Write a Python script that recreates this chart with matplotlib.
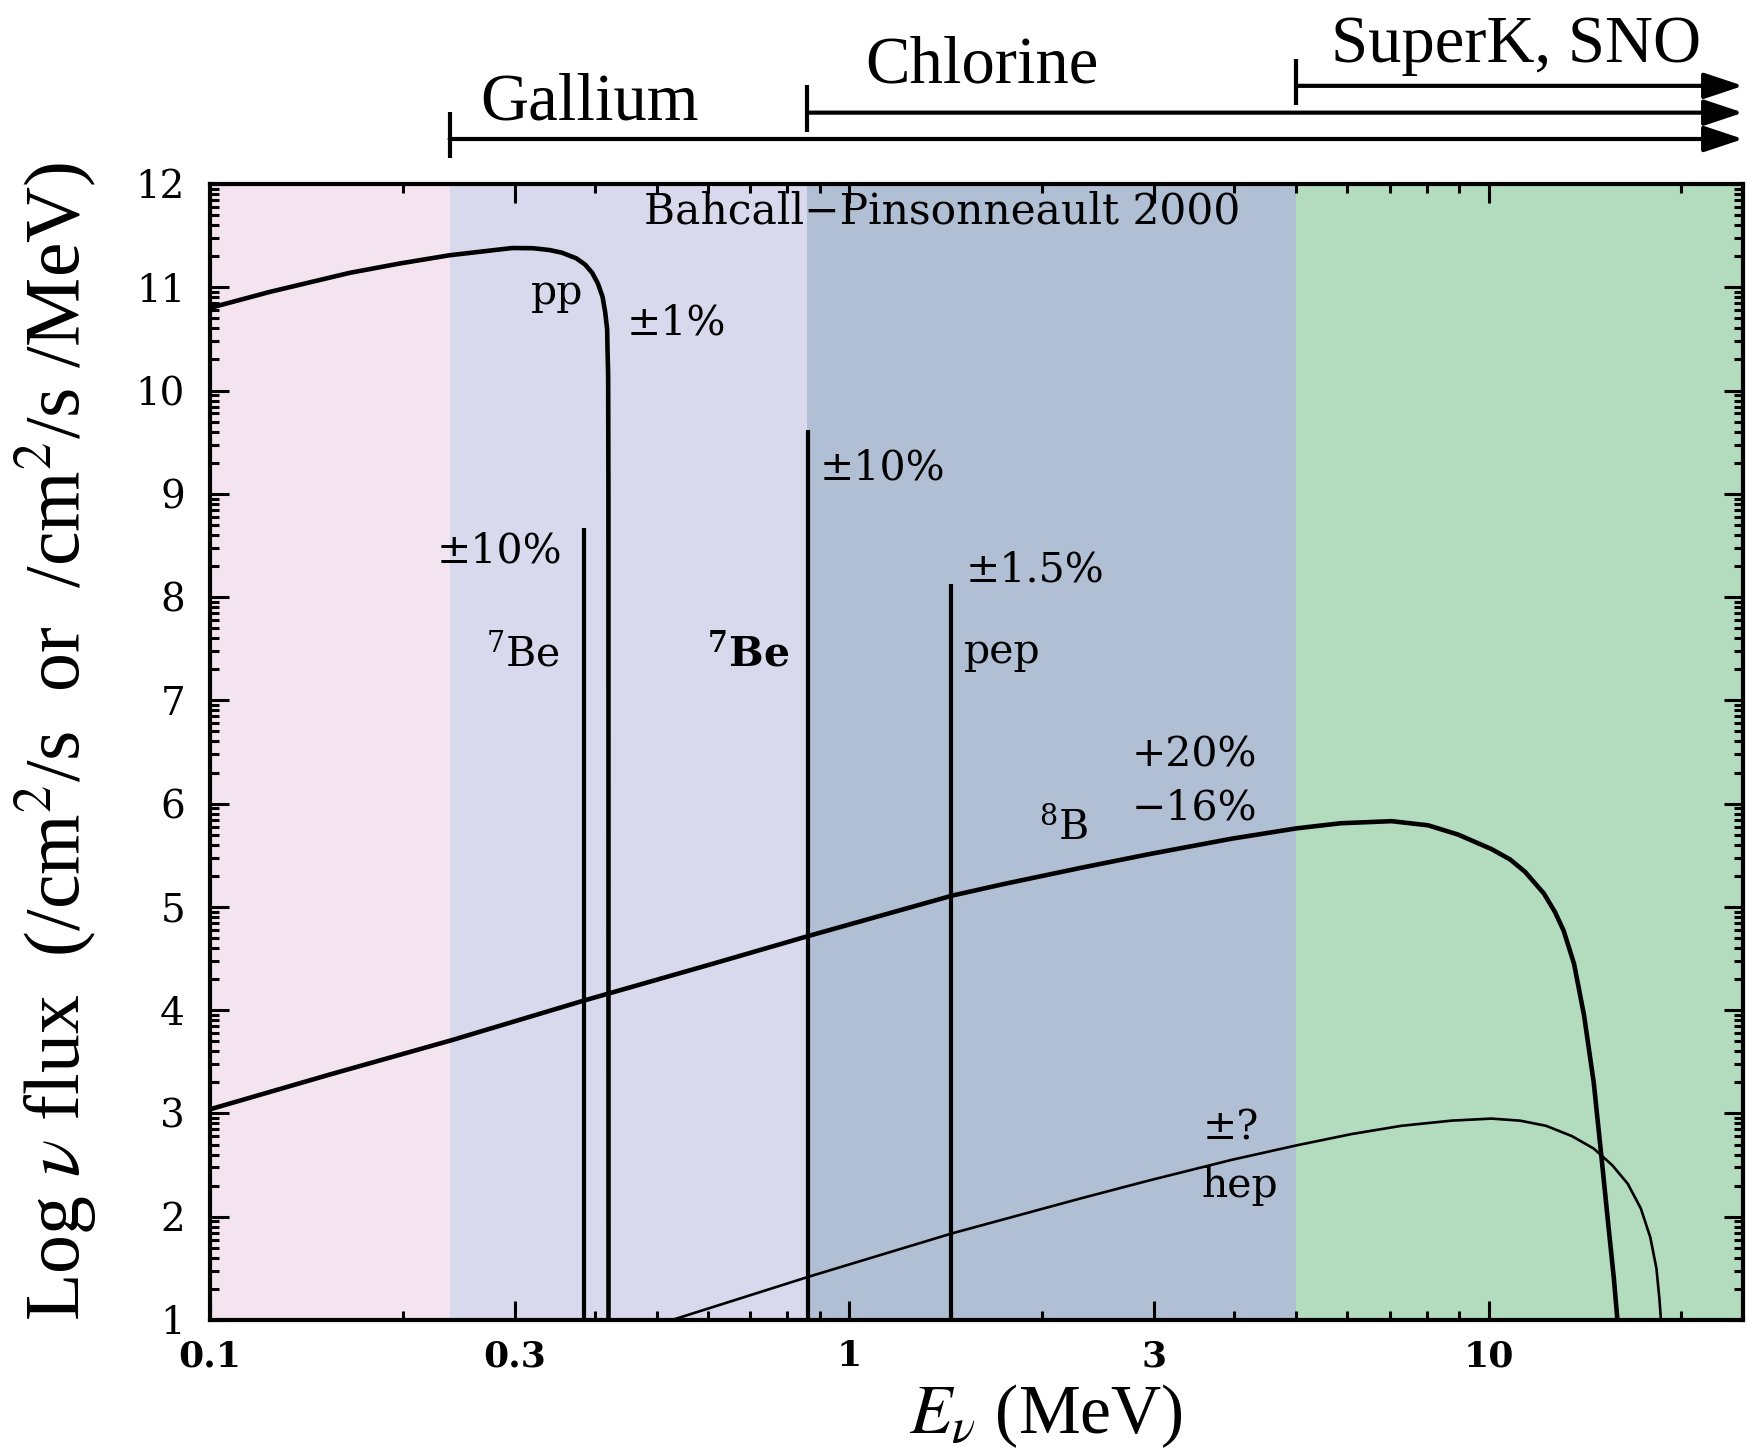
import numpy as np
import matplotlib.pyplot as plt
from matplotlib import transforms
from matplotlib.ticker import FixedLocator, FixedFormatter, NullFormatter

# shaded energy windows (MeV) and detector thresholds
band_edges = [0.1, 0.237, 0.86, 5.0, 25.0]
band_colors = ['#F4E4EF', '#D8D9EC', '#B0BFD4', '#B3DBBD']
detectors = ['Gallium', 'Chlorine', 'SuperK, SNO']
det_thresholds = [0.237, 0.86, 5.0]

# continuum spectra: E (MeV) vs log10 flux (/cm^2/s/MeV)
pp_E = [0.1, 0.124, 0.1655, 0.198, 0.237, 0.297, 0.32, 0.34, 0.355, 0.374,
        0.386, 0.396, 0.404, 0.411, 0.415, 0.418, 0.4185, 0.4193, 0.4195,
        0.4199, 0.42]
pp_flux = [10.80, 10.955, 11.14, 11.23, 11.31, 11.38, 11.378, 11.36, 11.335,
           11.28, 11.22, 11.14, 11.04, 10.91, 10.76, 10.59, 10.40, 10.20,
           10.10, 9.0, 1.0]

b8_E = [0.1, 0.154, 0.239, 0.383, 0.612, 0.865, 1.45, 1.74, 2.31, 2.94, 3.96,
        5.0, 5.87, 7.05, 8.04, 8.96, 10.1, 10.8, 11.4, 12.2, 12.7, 13.1,
        13.6, 14.1, 14.6, 15.0, 15.4, 15.7, 15.9]
b8_flux = [3.04, 3.377, 3.71, 4.09, 4.45, 4.72, 5.11, 5.22, 5.38, 5.51, 5.66,
           5.76, 5.81, 5.83, 5.79, 5.70, 5.56, 5.46, 5.34, 5.13, 4.95, 4.77,
           4.45, 3.95, 3.30, 2.60, 1.90, 1.40, 1.0]

hep_E = [0.528, 0.865, 1.45, 2.31, 2.94, 3.96, 5.0, 6.1, 7.3, 8.74, 10.1,
         11.2, 12.3, 13.5, 14.6, 15.6, 16.5, 17.3, 17.9, 18.3, 18.5, 18.6]
hep_flux = [1.0, 1.42, 1.84, 2.18, 2.35, 2.55, 2.69, 2.80, 2.88, 2.93, 2.95,
            2.93, 2.88, 2.78, 2.66, 2.50, 2.32, 2.08, 1.80, 1.50, 1.20, 1.0]

# monoenergetic lines: 7Be (0.384, 0.862) and pep
line_E = [0.384, 0.862, 1.442]
line_flux = [8.67, 9.62, 8.13]

xtick_vals = [0.1, 0.3, 1, 3, 10]
xtick_labels = ['0.1', '0.3', '1', '3', '10']
ytick_vals = list(range(1, 13))

fig = plt.figure(figsize=(17.49, 14.51), dpi=100)
ax = fig.add_axes([0.1201, 0.0903, 0.8765, 0.7829])
ax.set_xscale('log')
ax.set_xlim(0.1, 25)
ax.set_ylim(1, 12)

for lo, hi, c in zip(band_edges[:-1], band_edges[1:], band_colors):
    ax.axvspan(lo, hi, color=c, lw=0, zorder=0)

ax.plot(pp_E, pp_flux, color='k', lw=3.3, solid_joinstyle='round')
ax.plot(b8_E, b8_flux, color='k', lw=3.3, solid_joinstyle='round')
ax.plot(hep_E, hep_flux, color='k', lw=1.9, solid_joinstyle='round')
ax.vlines(line_E, 1, line_flux, colors='k', lw=3.0)

# ticks
ax.xaxis.set_major_locator(FixedLocator(xtick_vals))
ax.xaxis.set_major_formatter(FixedFormatter(xtick_labels))
minor_x = [k * 10.0**d for d in (-1, 0, 1) for k in range(2, 10) if k * 10.0**d < 25]
ax.xaxis.set_minor_locator(FixedLocator(minor_x))
ax.xaxis.set_minor_formatter(NullFormatter())
ax.yaxis.set_major_locator(FixedLocator(ytick_vals))
minor_y = [n + np.log10(k) for n in range(1, 12) for k in range(2, 10)]
ax.yaxis.set_minor_locator(FixedLocator(minor_y))

ax.tick_params(which='both', direction='in', top=True, right=True, width=2.2)
ax.tick_params(which='major', length=14)
ax.tick_params(which='minor', length=6.5)
ax.tick_params(axis='x', pad=14)
ax.tick_params(axis='y', pad=18)
for lab in ax.get_xticklabels():
    lab.set_fontfamily('DejaVu Serif')
    lab.set_fontweight('bold')
    lab.set_fontsize(26)
for lab in ax.get_yticklabels():
    lab.set_fontfamily('DejaVu Serif')
    lab.set_fontsize(28)
for sp in ax.spines.values():
    sp.set_linewidth(3)

# detector ranges above the frame
trans = transforms.blended_transform_factory(ax.transData, ax.transAxes)
bar_y = [1.0396, 1.0628, 1.0864]
label_pos = [(0.392, 1.0572), (1.61, 1.089), (11.04, 1.1074)]
for name, thr, yb, (tx, ty) in zip(detectors, det_thresholds, bar_y, label_pos):
    ax.annotate('', xy=(25, yb), xytext=(thr, yb), xycoords=trans, textcoords=trans,
                arrowprops=dict(arrowstyle='-|>,head_length=1.2,head_width=0.4',
                                mutation_scale=20, lw=3, color='k',
                                shrinkA=0, shrinkB=0),
                annotation_clip=False)
    ax.plot([thr, thr], [yb - 0.017, yb + 0.024], transform=trans, color='k',
            lw=3, clip_on=False, solid_capstyle='butt')
    ax.text(tx, ty, name, transform=trans, ha='center', va='baseline',
            fontsize=48, family='Liberation Serif')

# labels on the spectra
kw = dict(family='DejaVu Serif', fontsize=29.5, math_fontfamily='dejavuserif',
          va='baseline')
ax.text(1.398, 11.62, 'Bahcall\u2212Pinsonneault 2000', ha='center',
        **{**kw, 'fontsize': 30.5})
ax.text(0.3834, 10.84, 'pp', ha='right', **kw)
ax.text(0.449, 10.54, '\u00b11%', ha='left', **kw)
ax.text(0.897, 9.135, '\u00b110%', ha='left', **kw)
ax.text(0.3556, 8.33, '\u00b110%', ha='right', **kw)
ax.text(0.3527, 7.33, r'$^{7}$Be', ha='right', **kw)
ax.text(0.806, 7.33, r'$^{\mathbf{7}}$Be', ha='right', fontweight='bold', **kw)
ax.text(1.521, 8.15, '\u00b11.5%', ha='left', **kw)
ax.text(1.512, 7.36, 'pep', ha='left', **kw)
ax.text(2.764, 6.357, '+20%', ha='left', **kw)
ax.text(2.764, 5.843, '\u221216%', ha='left', **kw)
ax.text(1.98, 5.642, r'$^{8}$B', ha='left', **kw)
ax.text(3.567, 2.747, '\u00b1?', ha='left', **kw)
ax.text(3.55, 2.19, 'hep', ha='left', **kw)

fig.text(0.032, 0.489, r'Log $\nu$ flux  (/cm$^2$/s  or  /cm$^2$/s /MeV)',
         rotation=90, ha='center', va='center', fontsize=56,
         family='Liberation Serif', math_fontfamily='stix')
fig.text(0.598, 0.0124, r'$E_\nu$ (MeV)', ha='center', va='baseline',
         fontsize=50, family='Liberation Serif', math_fontfamily='stix')

fig.savefig('out.png', dpi=100)
